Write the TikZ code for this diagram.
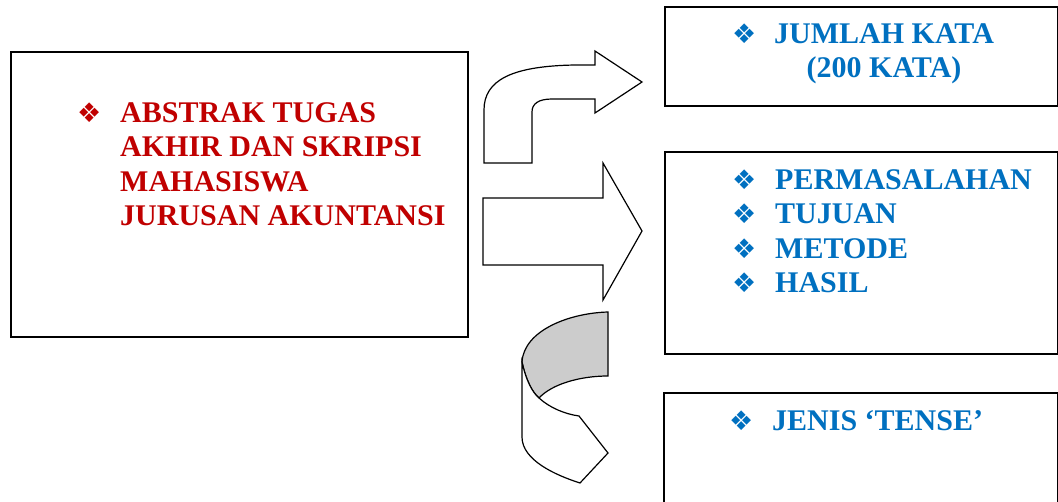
\documentclass[tikz,border=0pt]{standalone}
\usepackage{fontspec}
\setmainfont{Liberation Serif}
\newfontfamily\dejavu{DejaVu Sans}
\usepackage{xcolor}
\definecolor{merahtua}{HTML}{C00000}
\definecolor{birumedio}{HTML}{0070C0}
\definecolor{abumuda}{HTML}{CCCCCC}
\usetikzlibrary{arrows.meta}
\newcommand{\butir}{{\dejavu\fontsize{27}{27}\selectfont ❖}}

\begin{document}
\begin{tikzpicture}[
  x=1pt, y=-1pt,
  kotak/.style={
    draw, line width=1.5pt, inner sep=0pt, anchor=north west
  },
  isi/.style={
    font=\bfseries\fontsize{30}{34.6}\selectfont,
    inner sep=0pt, anchor=base west
  },
  panah/.style={draw, line width=1.2pt, line join=miter}
]
  \useasboundingbox (0,0) rectangle (1058,501);
  % kotak-kotak
  \node[kotak, minimum width=457pt, minimum height=285pt] (kiri) at (10,51) {};
  \node[kotak, minimum width=393pt, minimum height=99pt] (jumlah) at (664,6) {};
  \node[kotak, minimum width=393pt, minimum height=202pt] (inti) at (664,151) {};
  \node[kotak, minimum width=394pt, minimum height=140pt] (tense) at (663,392) {};
  % isi teks
  \node[isi, text=merahtua] (tkiri) at (77,122) {%
    \begin{tabular}[t]{@{}p{43pt}@{}l@{}}
      \butir & ABSTRAK TUGAS\\
             & AKHIR DAN SKRIPSI\\
             & MAHASISWA\\
             & JURUSAN AKUNTANSI
    \end{tabular}};
  \node[isi, text=birumedio] (tjumlah) at (732,43) {%
    \begin{tabular}[t]{@{}p{42pt}@{}c@{}}
      \butir & JUMLAH KATA\\
             & (200 KATA)
    \end{tabular}};
  \node[isi, text=birumedio] (tinti) at (732,189) {%
    \begin{tabular}[t]{@{}p{43pt}@{}l@{}}
      \butir & PERMASALAHAN\\
      \butir & TUJUAN\\
      \butir & METODE\\
      \butir & HASIL
    \end{tabular}};
  \node[isi, text=birumedio] (ttense) at (729,430) {%
    \begin{tabular}[t]{@{}p{43pt}@{}l@{}}
      \butir & JENIS ‘TENSE’
    \end{tabular}};
  % panah belok
  \draw[panah, fill=white] (484,163) -- (484,110)
    .. controls (484,80) and (512,66) .. (575,65) -- (595,65)
    -- (595,51) -- (642,82) -- (595,113) -- (595,99) -- (552,99)
    .. controls (538,99) and (532,104) .. (532,112) -- (532,163) -- cycle;
  % panah lurus
  \draw[panah, fill=white] (483,198) -- (603,198) -- (603,163) -- (642,231)
    -- (603,300) -- (603,265) -- (483,265) -- cycle;
  % panah putar
  \draw[panah, fill=abumuda] (608,312)
    .. controls (570,313) and (524,330) .. (522,362)
    .. controls (526,380) and (532,392) .. (539,398)
    .. controls (552,384) and (580,376) .. (608,376) -- cycle;
  \draw[panah, fill=white] (522,362)
    .. controls (526,380) and (532,392) .. (539,398)
    .. controls (550,408) and (565,414) .. (579,416)
    -- (608,453) -- (580,483)
    .. controls (555,475) and (522,460) .. (522,437) -- cycle;
\end{tikzpicture}
\end{document}
